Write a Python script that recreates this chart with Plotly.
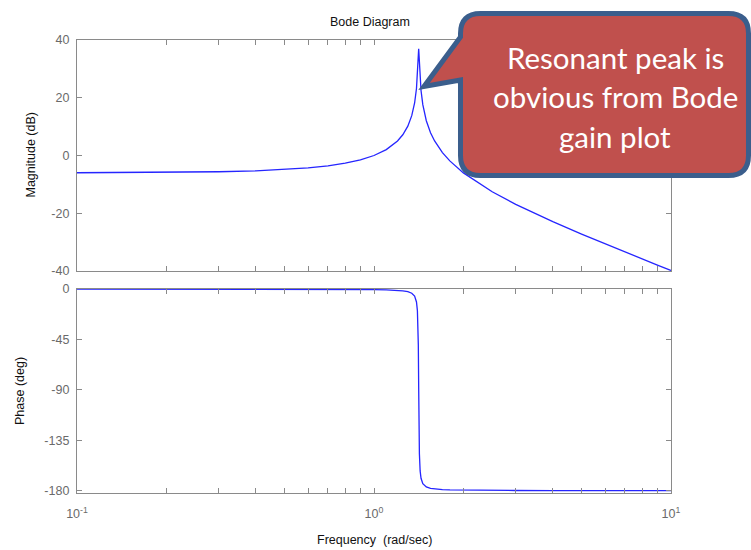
import plotly.graph_objects as go

# ---- data ----
freq = [0.1, 0.15, 0.2, 0.3, 0.4, 0.5, 0.6, 0.7, 0.8, 0.9, 1.0, 1.1, 1.2, 1.25, 1.3,
        1.34, 1.37, 1.39, 1.40, 1.405, 1.41, 1.414, 1.418, 1.422, 1.43, 1.44, 1.46,
        1.5, 1.55, 1.6, 1.7, 1.8, 2.0, 2.5, 3, 4, 5, 6, 7, 8, 9, 10]
magnitude_db = [-5.98, -5.92, -5.85, -5.62, -5.30, -4.86, -4.30, -3.58, -2.67, -1.51,
                0.0, 2.05, 5.04, 7.18, 10.17, 13.79, 18.19, 23.19, 27.46, 30.59, 34.68,
                36.99, 35.00, 31.61, 26.54, 22.50, 17.61, 12.04, 7.90, 5.04, 1.01, -1.87,
                -6.02, -12.57, -16.90, -22.92, -27.23, -30.63, -33.44, -35.85, -37.95, -39.82]
phase_deg = [-0.03, -0.04, -0.06, -0.09, -0.12, -0.16, -0.21, -0.27, -0.34, -0.43,
             -0.57, -0.80, -1.23, -1.64, -2.40, -3.75, -6.35, -11.57, -19.29, -28.41,
             -49.84, -87.55, -127.1, -147.2, -162.3, -168.9, -173.7, -176.6, -177.8,
             -178.4, -178.9, -179.2, -179.4, -179.7, -179.75, -179.84, -179.88, -179.90,
             -179.91, -179.93, -179.93, -179.94]

mag_ticks = [40, 20, 0, -20, -40]
phase_ticks = [0, -45, -90, -135, -180]
x_major = [0.1, 1, 10]
x_major_text = ["10<sup>-1</sup>", "10<sup>0</sup>", "10<sup>1</sup>"]
x_minor = [0.2, 0.3, 0.4, 0.5, 0.6, 0.7, 0.8, 0.9, 2, 3, 4, 5, 6, 7, 8, 9]

title_text = "Bode Diagram"
mag_label = "Magnitude (dB)"
phase_label = "Phase (deg)"
freq_label = "Frequency  (rad/sec)"
callout_lines = ["Resonant peak is", "obvious from Bode", "gain plot"]

# ---- layout geometry (pixels) ----
W, H = 751, 550
L, R, T, B = 77, 80, 40, 57
pw, ph = W - L - R, H - T - B


def px(x):
    return (x - L) / pw


def py(y):
    return (H - B - y) / ph


LINE_COLOR = "#2525ff"
AX_COLOR = "#8a8a8a"
TICK_FONT = dict(family="Liberation Sans, Arial, sans-serif", size=12.5, color="#6a6a6a")
LABEL_FONT = dict(family="Liberation Sans, Arial, sans-serif", size=12.5, color="#111111")

fig = go.Figure()
fig.add_trace(go.Scatter(x=freq, y=magnitude_db, mode="lines",
                         line=dict(color=LINE_COLOR, width=1.3),
                         xaxis="x", yaxis="y", showlegend=False, hoverinfo="skip"))
fig.add_trace(go.Scatter(x=freq, y=phase_deg, mode="lines",
                         line=dict(color=LINE_COLOR, width=1.3),
                         xaxis="x2", yaxis="y2", showlegend=False, hoverinfo="skip"))

common_x = dict(type="log", range=[-1, 1], showline=True, linecolor=AX_COLOR, linewidth=1.2,
                mirror="ticks", ticks="inside", ticklen=5, tickcolor=AX_COLOR,
                tickmode="array", tickvals=x_major, ticktext=x_major_text,
                minor=dict(tickmode="array", tickvals=x_minor, ticks="inside", ticklen=5,
                           tickcolor=AX_COLOR, showgrid=False),
                showgrid=False, zeroline=False, tickfont=TICK_FONT, automargin=False)
common_y = dict(showline=True, linecolor=AX_COLOR, linewidth=1.2, mirror="ticks",
                ticks="inside", ticklen=5, tickcolor=AX_COLOR, showgrid=False,
                zeroline=False, tickfont=TICK_FONT, ticklabelstandoff=4, automargin=False)

top_dom = [py(271), 1.0]
bot_dom = [0.0, py(289)]

fig.update_layout(
    width=W, height=H,
    margin=dict(l=L, r=R, t=T, b=B),
    paper_bgcolor="white", plot_bgcolor="white",
    xaxis=dict(**common_x, anchor="y", showticklabels=False),
    yaxis=dict(**common_y, domain=top_dom, range=[-40, 40], tickvals=mag_ticks,
               ticktext=[str(v) for v in mag_ticks], anchor="x"),
    xaxis2=dict(**common_x, anchor="y2", ticklabelstandoff=9),
    yaxis2=dict(**common_y, domain=bot_dom, range=[-182, 0], tickvals=phase_ticks,
                ticktext=[str(v) for v in phase_ticks], anchor="x2"),
)

# title and axis labels
fig.add_annotation(text=title_text, xref="paper", yref="paper", x=px(370), y=py(22),
                   xanchor="center", yanchor="middle", showarrow=False, font=LABEL_FONT)
fig.add_annotation(text=mag_label, xref="paper", yref="paper", x=px(30), y=py(155.5),
                   xanchor="center", yanchor="middle", showarrow=False, textangle=-90,
                   font=LABEL_FONT)
fig.add_annotation(text=phase_label, xref="paper", yref="paper", x=px(20), y=py(391),
                   xanchor="center", yanchor="middle", showarrow=False, textangle=-90,
                   font=LABEL_FONT)
fig.add_annotation(text=freq_label, xref="paper", yref="paper", x=px(374), y=py(540),
                   xanchor="center", yanchor="middle", showarrow=False, font=LABEL_FONT)

# ---- callout shape ----
x0, x1, y0, y1, r = 460.5, 748.5, 13.5, 175.5, 20
tip = (424, 86.5)


def P(x, y):
    return f"{px(x):.5f},{py(y):.5f}"


path = (f"M {P(x0 + r, y0)} L {P(x1 - r, y0)} Q {P(x1, y0)} {P(x1, y0 + r)} "
        f"L {P(x1, y1 - r)} Q {P(x1, y1)} {P(x1 - r, y1)} "
        f"L {P(x0 + r, y1)} Q {P(x0, y1)} {P(x0, y1 - r)} "
        f"L {P(x0, 80)} L {P(*tip)} L {P(x0, 37)} "
        f"L {P(x0, y0 + r)} Q {P(x0, y0)} {P(x0 + r, y0)} Z")
fig.add_shape(type="path", path=path, xref="paper", yref="paper",
              fillcolor="#C0504D", line=dict(color="#3B5E8C", width=5), layer="above")

for text, yc in zip(callout_lines, [58, 97, 136]):
    fig.add_annotation(text=text, xref="paper", yref="paper", x=px(615), y=py(yc),
                       showarrow=False, xanchor="center", yanchor="middle",
                       font=dict(family="Lato, 'Open Sans', sans-serif", size=29.5, color="white"))

fig.write_html("out.html", post_script="document.body.style.margin='0';",
               config={"displayModeBar": False})
